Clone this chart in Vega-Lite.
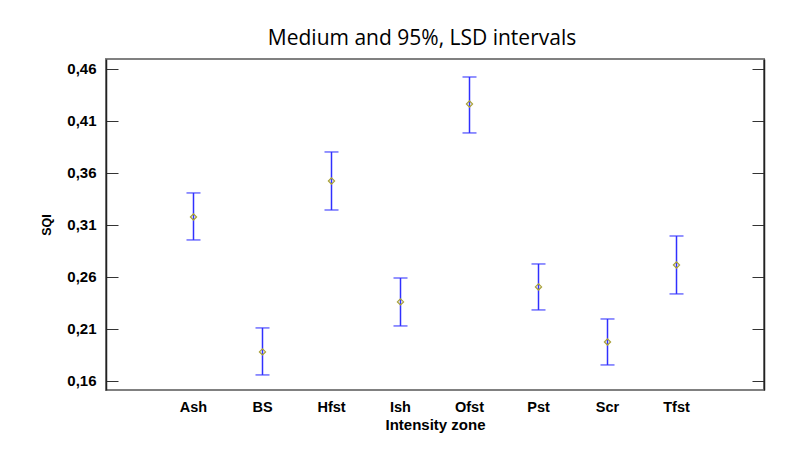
{
  "$schema": "https://vega.github.io/schema/vega-lite/v6.json",
  "width": 658,
  "height": 331,
  "autosize": "none",
  "padding": {"left": 106, "top": 59, "right": 23, "bottom": 69},
  "background": "white",
  "title": {"text": "Medium and 95%, LSD intervals", "font": "Open Sans", "fontSize": 21, "fontWeight": "normal", "color": "black", "offset": 10, "dx": -13},
  "config": {
    "view": {"stroke": "#808080", "strokeWidth": 2},
    "axis": {"labelFont": "Liberation Sans", "titleFont": "Liberation Sans", "labelColor": "black", "titleColor": "black", "grid": false}
  },
  "data": {"values": [
    {"zone": "Ash", "mean": 0.3177, "lo": 0.2956, "hi": 0.3408},
    {"zone": "BS", "mean": 0.1879, "lo": 0.1658, "hi": 0.2110},
    {"zone": "Hfst", "mean": 0.3523, "lo": 0.3244, "hi": 0.3802},
    {"zone": "Ish", "mean": 0.2360, "lo": 0.2129, "hi": 0.2590},
    {"zone": "Ofst", "mean": 0.4263, "lo": 0.3985, "hi": 0.4523},
    {"zone": "Pst", "mean": 0.2504, "lo": 0.2283, "hi": 0.2725},
    {"zone": "Scr", "mean": 0.1975, "lo": 0.1754, "hi": 0.2196},
    {"zone": "Tfst", "mean": 0.2715, "lo": 0.2437, "hi": 0.2994}
  ]},
  "encoding": {
    "x": {
      "field": "zone", "type": "nominal",
      "sort": ["Ash", "BS", "Hfst", "Ish", "Ofst", "Pst", "Scr", "Tfst"],
      "scale": {"type": "band", "paddingInner": 0, "paddingOuter": 0.768},
      "axis": {"orient": "bottom", "domain": false, "ticks": false, "labelAngle": 0, "labelFontSize": 14.5, "labelFontWeight": "bold", "labelPadding": 10, "title": "Intensity zone", "titleFontSize": 15, "titleFontWeight": "bold", "titlePadding": 4}
    }
  },
  "layer": [
    {
      "mark": {"type": "rule", "color": "#3030ff", "strokeWidth": 1.5},
      "encoding": {
        "y": {"field": "lo", "type": "quantitative",
          "scale": {"domain": [0.1513, 0.4696], "nice": false, "zero": false},
          "axis": {"orient": "left", "values": [0.16, 0.21, 0.26, 0.31, 0.36, 0.41, 0.46], "labelExpr": "replace(format(datum.value, '.2f'), '.', ',')", "tickSize": -12, "tickColor": "#333", "domainColor": "#222", "domainWidth": 1.5, "labelFontSize": 15, "labelFontWeight": "bold", "labelPadding": 22, "title": "SQI", "titleFontSize": 12.5, "titleFontWeight": "bold", "titlePadding": 13}},
        "y2": {"field": "hi"}
      }
    },
    {
      "mark": {"type": "tick", "color": "#3030ff", "size": 14, "thickness": 1.5},
      "encoding": {"y": {"field": "lo", "type": "quantitative", "axis": null}}
    },
    {
      "mark": {"type": "tick", "color": "#3030ff", "size": 14, "thickness": 1.5},
      "encoding": {"y": {"field": "hi", "type": "quantitative", "axis": null}}
    },
    {
      "mark": {"type": "point", "shape": "diamond", "filled": false, "color": "#a8a038", "size": 38, "strokeWidth": 1.2, "opacity": 1},
      "encoding": {"y": {"field": "mean", "type": "quantitative",
        "axis": {"orient": "right", "values": [0.16, 0.21, 0.26, 0.31, 0.36, 0.41, 0.46], "labels": false, "tickSize": -12, "tickColor": "#333", "domainColor": "#222", "domainWidth": 1.5, "title": null}}}
    }
  ],
  "resolve": {"axis": {"y": "independent"}}
}
